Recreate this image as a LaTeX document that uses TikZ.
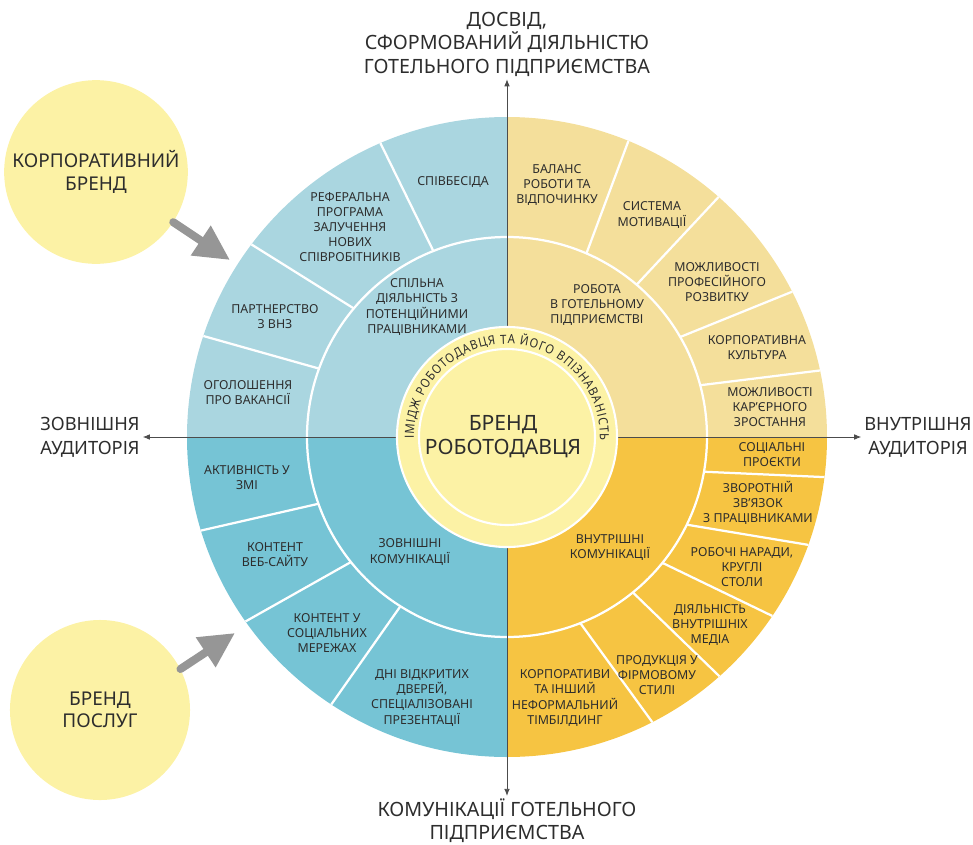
\documentclass[tikz,border=0pt]{standalone}
\usepackage{fontspec}
\setmainfont{Noto Sans}
\newfontfamily\arcfont[FakeStretch=0.9]{Noto Sans}
\usetikzlibrary{arrows.meta,decorations.text}
\definecolor{tlblue}{RGB}{170,214,224}
\definecolor{blblue}{RGB}{118,196,213}
\definecolor{trsand}{RGB}{244,223,155}
\definecolor{brgold}{RGB}{246,196,66}
\definecolor{pale}{RGB}{252,242,165}
\definecolor{ink}{RGB}{45,45,45}
\definecolor{arrowgray}{RGB}{150,150,150}
\tikzset{
  seg/.style={align=center, text=ink, font=\fontsize{8.8}{10.7}\selectfont},
  axlbl/.style={align=center, text=ink, inner sep=2pt, font=\fontsize{13}{17}\selectfont},
  brandball/.style={circle, fill=pale, minimum size=4.5cm, align=center, text=ink, font=\fontsize{13.5}{16}\selectfont},
  sepline/.style={white, line width=1.6pt},
  axisline/.style={ink!85, line width=0.6pt, {Latex[length=5pt,width=4pt]}-{Latex[length=5pt,width=4pt]}},
  fatarrow/.style={arrowgray, line width=5.7pt, line cap=round, -{Triangle[length=25pt,width=24pt]}}
}

\begin{document}
\begin{tikzpicture}[x=0.025cm, y=0.025cm]
  \useasboundingbox (-507,-407) rectangle (466,437);
  \fill[trsand] (0,0) -- (0:320) arc[start angle=0, end angle=90, radius=320] -- cycle;
  \fill[tlblue] (0,0) -- (90:320) arc[start angle=90, end angle=180, radius=320] -- cycle;
  \fill[blblue] (0,0) -- (180:320) arc[start angle=180, end angle=270, radius=320] -- cycle;
  \fill[brgold] (0,0) -- (270:320) arc[start angle=270, end angle=360, radius=320] -- cycle;
  \draw[sepline] (0,0) circle[radius=200];
  \foreach \a/\b in {111.6/113.3, 140/143, 160/161.6, 66.6/67.7, 49.6/48.6, 30/27, 15/12,
    199.5/197, 218.7/215.2, 237.8/236.7, 350/352.8, 334/340.3, 321/326, 309/311.6, 291.5/297}
    \draw[sepline] (\a:200) -- (\b:320);

  % axes and their labels
  \node[axlbl, font=\fontsize{14}{16.7}\selectfont] (exp) at (0,393) {ДОСВІД,\\СФОРМОВАНИЙ ДІЯЛЬНІСТЮ\\ГОТЕЛЬНОГО ПІДПРИЄМСТВА};
  \node[axlbl, font=\fontsize{14}{16.5}\selectfont] (comm) at (0,-384) {КОМУНІКАЦІЇ ГОТЕЛЬНОГО\\ПІДПРИЄМСТВА};
  \node[axlbl] (ext) at (-417,0) {ЗОВНІШНЯ\\АУДИТОРІЯ};
  \node[axlbl] (int) at (411,0) {ВНУТРІШНЯ\\АУДИТОРІЯ};
  \draw[axisline] (ext.east) -- (int.west);
  \draw[axisline] (comm.north) -- (exp.south);

  % core
  \node[circle, fill=pale, draw=white, line width=1.5pt, minimum size=5.5cm] (hub) at (0,0) {};
  \draw[white, line width=1.5pt] (hub.center) circle[radius=88];
  \path[decorate, decoration={text along path, text align={fit to path},
    text={|\arcfont\fontsize{9}{9}\selectfont\color{ink}|ІМІДЖ РОБОТОДАВЦЯ ТА ЙОГО ВПІЗНАВАНІСТЬ}}]
    (181:93) arc[start angle=181, end angle=-2, radius=93];
  \node[align=center, text=ink, font=\fontsize{15}{17}\selectfont] (core) at (-4,0) {БРЕНД\\РОБОТОДАВЦЯ};

  % top left
  \node[seg] (interview) at (-54,255) {СПІВБЕСІДА};
  \node[seg] (referral) at (-157,210) {РЕФЕРАЛЬНА\\ПРОГРАМА\\ЗАЛУЧЕННЯ\\НОВИХ\\СПІВРОБІТНИКІВ};
  \node[seg] (univ) at (-232,120) {ПАРТНЕРСТВО\\З ВНЗ};
  \node[seg] (vacancy) at (-259,44) {ОГОЛОШЕННЯ\\ПРО ВАКАНСІЇ};
  \node[seg] (joint) at (-90,130) {СПІЛЬНА\\ДІЯЛЬНІСТЬ З\\ПОТЕНЦІЙНИМИ\\ПРАЦІВНИКАМИ};
  % top right
  \node[seg] (balance) at (50,252) {БАЛАНС\\РОБОТИ ТА\\ВІДПОЧИНКУ};
  \node[seg] (motive) at (145,222) {СИСТЕМА\\МОТИВАЦІЇ};
  \node[seg] (growth) at (210,155) {МОЖЛИВОСТІ\\ПРОФЕСІЙНОГО\\РОЗВИТКУ};
  \node[seg] (culture) at (250,89) {КОРПОРАТИВНА\\КУЛЬТУРА};
  \node[seg] (career) at (263,30) {МОЖЛИВОСТІ\\КАР'ЄРНОГО\\ЗРОСТАННЯ};
  \node[seg] (work) at (90,132) {РОБОТА\\В ГОТЕЛЬНОМУ\\ПІДПРИЄМСТВІ};
  % bottom left
  \node[seg] (media) at (-260,-41) {АКТИВНІСТЬ У\\ЗМІ};
  \node[seg] (web) at (-232,-118) {КОНТЕНТ\\ВЕБ-САЙТУ};
  \node[seg] (social) at (-180,-196) {КОНТЕНТ У\\СОЦІАЛЬНИХ\\МЕРЕЖАХ};
  \node[seg] (opendays) at (-85,-261) {ДНІ ВІДКРИТИХ\\ДВЕРЕЙ,\\СПЕЦІАЛІЗОВАНІ\\ПРЕЗЕНТАЦІЇ};
  \node[seg] (extcomm) at (-97,-115) {ЗОВНІШНІ\\КОМУНІКАЦІЇ};
  % bottom right
  \node[seg] (projects) at (265,-18) {СОЦІАЛЬНІ\\ПРОЄКТИ};
  \node[seg] (feedback) at (251,-66) {ЗВОРОТНІЙ\\ЗВ'ЯЗОК\\З ПРАЦІВНИКАМИ};
  \node[seg] (meetings) at (235,-130) {РОБОЧІ НАРАДИ,\\КРУГЛІ\\СТОЛИ};
  \node[seg] (inmedia) at (203,-188) {ДІЯЛЬНІСТЬ\\ВНУТРІШНІХ\\МЕДІА};
  \node[seg] (merch) at (150,-238) {ПРОДУКЦІЯ У\\ФІРМОВОМУ\\СТИЛІ};
  \node[seg] (teams) at (58,-261) {КОРПОРАТИВИ\\ТА ІНШИЙ\\НЕФОРМАЛЬНИЙ\\ТІМБІЛДИНГ};
  \node[seg] (intcomm) at (103,-111) {ВНУТРІШНІ\\КОМУНІКАЦІЇ};

  % outside brands
  \node[brandball] (corp) at (-411,265) {КОРПОРАТИВНИЙ\\БРЕНД};
  \node[brandball] (serv) at (-407,-273) {БРЕНД\\ПОСЛУГ};
  \coordinate (corptip) at (-277,177);
  \coordinate (servtip) at (-272,-196);
  \draw[fatarrow] (corp.-33) -- (corptip);
  \draw[fatarrow] (serv.27) -- (servtip);
\end{tikzpicture}
\end{document}
